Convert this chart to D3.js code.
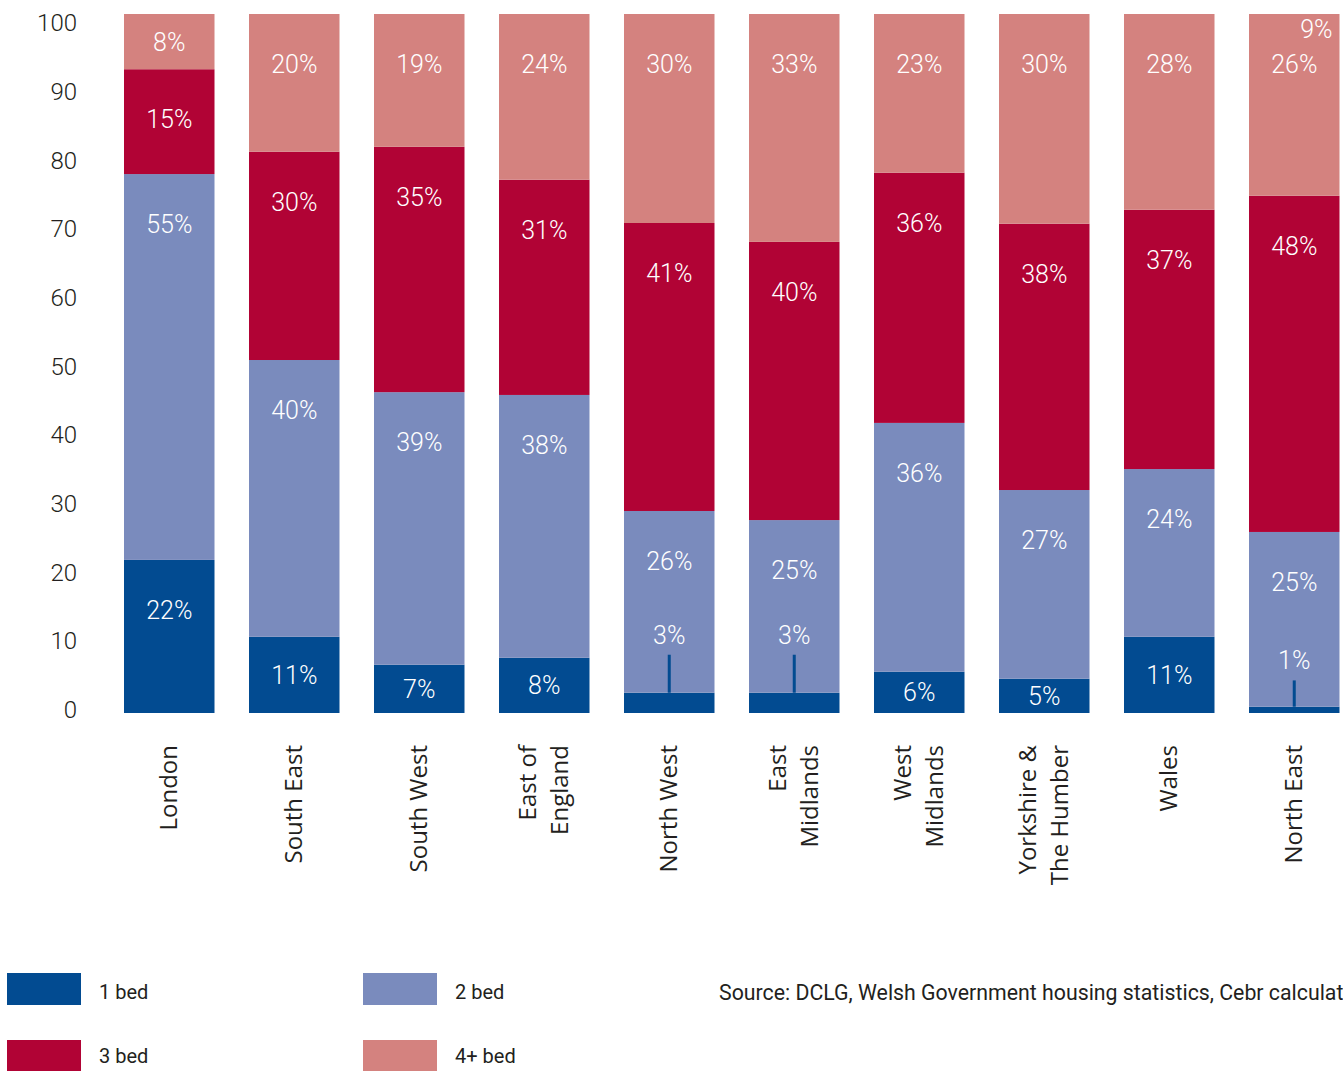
<!DOCTYPE html>
<html>
<head>
<meta charset="utf-8">
<script src="https://cdn.jsdelivr.net/npm/d3@7"></script>
<style>
  html, body { margin: 0; padding: 0; background: #fff; overflow: hidden; }
  svg { display: block; }
</style>
</head>
<body>
<svg id="chart" width="1343" height="1071"></svg>
<script>
// Share of housing stock by number of bedrooms, per region (%)
const regions = ["London", "South East", "South West", "East of England", "North West",
  "East Midlands", "West Midlands", "Yorkshire & The Humber", "Wales", "North East"];
// Label lines for the rotated region names
const regionLines = [["London"], ["South East"], ["South West"], ["East of", "England"], ["North West"],
  ["East", "Midlands"], ["West", "Midlands"], ["Yorkshire &", "The Humber"], ["Wales"], ["North East"]];

const seriesNames = ["1 bed", "2 bed", "3 bed", "4+ bed"];
const oneBed   = [21.9, 10.9,  6.9,  7.9,  2.9,  2.9,  5.9,  4.9, 10.9,  0.9];
const twoBed   = [55.2, 39.6, 39.0, 37.6, 26.0, 24.7, 35.6, 27.0, 24.0, 25.0];
const threeBed = [15.0, 29.8, 35.1, 30.8, 41.2, 39.8, 35.8, 38.1, 37.1, 48.1];
const fourBed  = [ 7.9, 19.7, 19.0, 23.7, 29.9, 32.6, 22.7, 30.0, 28.0, 26.0];

const yTicks = [0, 10, 20, 30, 40, 50, 60, 70, 80, 90, 100];
const sourceNote = "Source: DCLG, Welsh Government housing statistics, Cebr calculations";

const colors = ["#024b91", "#7a8bbd", "#b10335", "#d4827f"];
const inkColor = "#231f20";
const numFont = "Roboto, 'Liberation Sans', sans-serif";
const catFont = "'Open Sans', 'Noto Sans', sans-serif";

const rows = regions.map((r, i) => ({
  region: r,
  "1 bed": oneBed[i], "2 bed": twoBed[i], "3 bed": threeBed[i], "4+ bed": fourBed[i]
}));

const svg = d3.select("#chart");

const x = d3.scaleBand()
  .domain(regions)
  .range([106.75, 106.75 + 1250])
  .paddingInner(0.276)
  .paddingOuter(0.138);

const y = d3.scaleLinear().domain([0, 100]).range([713, 14]);
// Tick labels sit on a slightly tighter scale than the bars
const yLabels = d3.scaleLinear().domain([0, 100]).range([709, 22]);
const color = d3.scaleOrdinal().domain(seriesNames).range(colors);

const stacked = d3.stack().keys(seriesNames)(rows);

// Y axis: tick labels only
const yAxis = d3.axisLeft(yLabels).tickValues(yTicks).tickSize(0).tickPadding(0);
const yG = svg.append("g").attr("transform", "translate(77,0)").call(yAxis);
yG.select(".domain").remove();
yG.selectAll("text")
  .attr("fill", inkColor)
  .style("font-family", numFont)
  .style("font-weight", 300)
  .style("font-size", "24px")
  .attr("dy", "0.36em");

// Stacked bars
const layers = svg.append("g").selectAll("g")
  .data(stacked)
  .join("g")
  .attr("fill", d => color(d.key));

layers.selectAll("rect")
  .data(d => d)
  .join("rect")
  .attr("x", d => x(d.data.region))
  .attr("width", x.bandwidth())
  .attr("y", d => y(d[1]))
  .attr("height", d => y(d[0]) - y(d[1]));

// Value labels
const fmt = v => d3.format(".0f")(v) + "%";
const labelG = svg.append("g")
  .style("font-family", numFont)
  .style("font-weight", 300)
  .style("font-size", "25px")
  .attr("fill", "#ffffff")
  .attr("text-anchor", "middle");

stacked.forEach(layer => {
  layer.forEach(seg => {
    const val = seg[1] - seg[0];
    const top = y(seg[1]);
    const h = y(seg[0]) - top;
    const cx = x(seg.data.region) + x.bandwidth() / 2;
    if (h < 25) {
      // Thin segment: label sits above with a leader line
      const lineTop = top - Math.min(38, 20 + h * 1.0);
      svg.append("line")
        .attr("x1", cx).attr("x2", cx)
        .attr("y1", top).attr("y2", lineTop)
        .attr("stroke", color(layer.key))
        .attr("stroke-width", 3);
      labelG.append("text")
        .attr("x", cx)
        .attr("y", lineTop - 20)
        .attr("dy", "0.36em")
        .text(fmt(val));
    } else {
      labelG.append("text")
        .attr("x", cx)
        .attr("y", top + Math.min(h / 2, 50))
        .attr("dy", "0.36em")
        .text(fmt(val));
    }
  });
});

// Extra note in the North East top segment
labelG.append("text")
  .attr("x", x("North East") + x.bandwidth() - 7)
  .attr("y", y(100) + 15)
  .attr("dy", "0.36em")
  .attr("text-anchor", "end")
  .text("9%");

// Rotated region labels
const catG = svg.append("g")
  .style("font-family", catFont)
  .style("font-size", "24px")
  .attr("fill", inkColor);

regions.forEach((r, i) => {
  const lines = regionLines[i];
  const cx = x(r) + x.bandwidth() / 2;
  const lineGap = 32;
  const t = catG.append("text")
    .attr("transform", `translate(${cx},745) rotate(-90)`)
    .attr("text-anchor", "end");
  lines.forEach((ln, j) => {
    const off = (j - (lines.length - 1) / 2) * lineGap + 8;
    t.append("tspan")
      .attr("x", 0)
      .attr("y", off)
      .text(ln);
  });
});

// Legend
const legendPos = [[7, 973, 992], [363, 973, 992], [7, 1040, 1056], [363, 1040, 1056]];
const legend = svg.append("g")
  .style("font-family", numFont)
  .style("font-size", "20px")
  .attr("fill", inkColor);

seriesNames.forEach((s, i) => {
  const [lx, ly, ty] = legendPos[i];
  legend.append("rect")
    .attr("x", lx).attr("y", ly)
    .attr("width", 74).attr("height", 32)
    .attr("fill", color(s));
  legend.append("text")
    .attr("x", lx + 92)
    .attr("y", ty)
    .attr("dy", "0.36em")
    .text(s);
});

// Source line runs on past the right edge
legend.append("text")
  .attr("x", 719)
  .attr("y", 992)
  .attr("dy", "0.36em")
  .style("font-size", "21.3px")
  .text(sourceNote);
</script>
</body>
</html>
